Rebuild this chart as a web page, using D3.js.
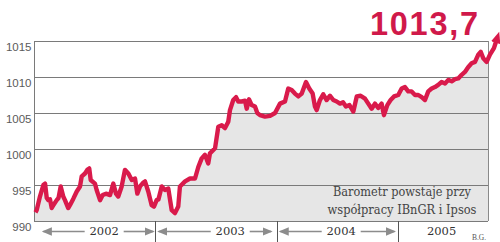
<!DOCTYPE html>
<html><head><meta charset="utf-8">
<script src="https://cdn.jsdelivr.net/npm/d3@7/dist/d3.min.js"></script>
<style>html,body{margin:0;padding:0;background:#fff;}svg{display:block;}</style>
</head><body><svg id="c" width="500" height="242"></svg>
<script>
// ---- data ----
const dates = [2002.012,2002.022,2002.049,2002.077,2002.091,2002.105,2002.118,2002.132,2002.146,2002.159,
2002.187,2002.202,2002.220,2002.241,2002.255,2002.282,2002.296,2002.324,2002.352,2002.379,
2002.393,2002.420,2002.439,2002.455,2002.467,2002.502,2002.516,2002.544,2002.566,2002.593,
2002.626,2002.653,2002.675,2002.694,2002.722,2002.749,2002.777,2002.805,2002.832,2002.851,
2002.873,2002.898,2002.914,2002.941,2002.969,2002.988,2003.010,2003.025,2003.052,2003.079,
2003.106,2003.134,2003.161,2003.188,2003.202,2003.244,2003.285,2003.326,2003.353,2003.381,
2003.408,2003.435,2003.449,2003.491,2003.518,2003.546,2003.573,2003.600,2003.614,2003.641,
2003.664,2003.682,2003.710,2003.738,2003.752,2003.771,2003.793,2003.820,2003.839,2003.861,
2003.902,2003.944,2003.985,2004.026,2004.067,2004.094,2004.122,2004.149,2004.177,2004.205,
2004.240,2004.267,2004.295,2004.314,2004.328,2004.355,2004.382,2004.410,2004.438,2004.465,
2004.493,2004.520,2004.545,2004.569,2004.598,2004.630,2004.658,2004.690,2004.726,2004.753,
2004.781,2004.808,2004.835,2004.863,2004.882,2004.910,2004.937,2004.965,2005.000,2005.028,
2005.055,2005.082,2005.110,2005.138,2005.165,2005.193,2005.220,2005.247,2005.275,2005.302,
2005.329,2005.357,2005.385,2005.412,2005.440,2005.467,2005.494,2005.522,2005.549,2005.577,
2005.604,2005.632,2005.659,2005.679,2005.700,2005.728,2005.755,2005.788,2005.805];
const values = [991.2,991.5,993.4,995.0,995.2,993.2,992.9,993.0,991.8,992.2,
992.9,993.2,994.8,993.4,992.9,991.8,992.2,993.1,994.1,994.8,
996.2,996.6,997.1,997.3,995.7,995.2,994.3,992.9,993.6,993.8,
993.6,995.2,993.8,993.4,994.8,997.1,996.6,995.7,995.9,993.8,
994.8,995.3,995.5,994.1,992.2,992.0,992.9,993.0,994.8,994.3,
994.5,991.5,991.1,992.0,994.8,995.5,995.9,995.9,997.5,998.7,
999.2,998.0,999.4,1000.1,1003.1,1003.3,1002.9,1003.8,1005.4,1006.8,
1007.2,1006.6,1006.6,1006.7,1005.6,1006.9,1006.1,1005.9,1005.0,1004.7,
1004.5,1004.6,1005.0,1006.3,1006.6,1008.4,1008.2,1007.7,1007.3,1007.7,
1009.3,1008.4,1007.7,1005.9,1005.4,1006.8,1007.6,1006.8,1007.4,1006.8,
1006.6,1006.3,1006.5,1005.9,1006.1,1005.2,1007.3,1007.4,1007.0,1006.3,
1005.6,1006.3,1005.7,1006.3,1004.7,1006.1,1006.8,1007.3,1007.5,1008.4,
1008.6,1008.0,1008.0,1007.5,1007.5,1007.2,1006.8,1008.0,1008.4,1008.6,
1008.9,1009.3,1009.1,1009.6,1009.4,1009.7,1009.8,1010.3,1010.7,1011.4,
1011.9,1012.1,1013.1,1013.5,1012.6,1012.1,1013.1,1014.0,1014.9];
const yTicks = [990, 995, 1000, 1005, 1010, 1015];
const years = ["2002", "2003", "2004", "2005"];
const yearLabelAt = [2002.578, 2003.616, 2004.530, 2005.357];
const arrowFrom = [2002.077, 2003.027, 2004.028, null];
const arrowTo = [2002.982, 2003.953, 2004.969, null];
const lastValueLabel = "1013,7";
const noteLines = ["Barometr powstaje przy", "współpracy IBnGR i Ipsos"];
const credit = "B.G.";

// ---- drawing ----
const svg = d3.select("#c");
const L = 34, R = 488, T = 41, B = 221;
const x = d3.scaleLinear().domain([2002, 2005.739]).range([L, R]);
const y = d3.scaleLinear().domain([990, 1015]).range([B, T]);
const red = "#d91a4b";
const serif = "'DejaVu Serif', serif";

const pts = dates.map((d, i) => ({t: d, v: values[i]}));

const defs = svg.append("defs");
defs.append("clipPath").attr("id", "plotclip")
  .append("rect").attr("x", L).attr("y", T).attr("width", R - L).attr("height", B - T);

// fill (extended to the left frame edge)
const fillPts = [{t: 2002, v: values[0]}].concat(pts);
svg.append("path").datum(fillPts)
  .attr("clip-path", "url(#plotclip)")
  .attr("fill", "#e6e6e6")
  .attr("d", d3.area().x(d => x(d.t)).y0(y(990)).y1(d => y(d.v)));

// grid
const yAxis = d3.axisLeft(y).tickValues(yTicks).tickSize(-(R - L)).tickFormat(d3.format("d"));
const ga = svg.append("g").attr("transform", `translate(${L},0)`).call(yAxis);
ga.select(".domain").remove();
ga.selectAll(".tick line").attr("stroke", "#7a7a7a").attr("stroke-width", 1).attr("shape-rendering", "crispEdges");
ga.selectAll(".tick text").attr("x", -2.5).attr("dy", null).attr("y", 9.2)
  .attr("fill", "#5a5a5a").attr("font-family", "'Liberation Sans', Arial, sans-serif")
  .attr("font-size", 11.5).attr("text-anchor", "end");

// frame verticals
svg.append("line").attr("x1", L).attr("x2", L).attr("y1", T).attr("y2", B)
  .attr("stroke", "#7a7a7a").attr("shape-rendering", "crispEdges");
svg.append("line").attr("x1", R).attr("x2", R).attr("y1", T).attr("y2", B)
  .attr("stroke", "#8a8a8a").attr("shape-rendering", "crispEdges");

// note text
noteLines.forEach((s, i) => {
  svg.append("text").text(s)
    .attr("x", 402).attr("y", 196 + i * 18.2)
    .attr("text-anchor", "middle").attr("font-family", serif)
    .attr("font-size", 12.5).attr("fill", "#444")
    .attr("textLength", i === 0 ? 138 : 149).attr("lengthAdjust", "spacingAndGlyphs");
});

// markers
defs.append("marker").attr("id", "head").attr("markerUnits", "userSpaceOnUse")
  .attr("markerWidth", 16).attr("markerHeight", 16).attr("viewBox", "0 -8 16 16")
  .attr("refX", 1).attr("refY", 0).attr("orient", "auto")
  .append("path").attr("d", "M0,-4.8L11.5,0L0,4.8Z").attr("fill", red);
defs.append("marker").attr("id", "ghead").attr("markerUnits", "userSpaceOnUse")
  .attr("markerWidth", 12).attr("markerHeight", 12).attr("viewBox", "0 -6 12 12")
  .attr("refX", 8.5).attr("refY", 0).attr("orient", "auto")
  .append("path").attr("d", "M0,-4.2L10,0L0,4.2Z").attr("fill", "#8c8c8c");

// line
svg.append("path").datum(pts)
  .attr("fill", "none").attr("stroke", red).attr("stroke-width", 4.4)
  .attr("stroke-linejoin", "round").attr("stroke-linecap", "butt")
  .attr("marker-end", "url(#head)")
  .attr("d", d3.line().x(d => x(d.t)).y(d => y(d.v)));

// big value
svg.append("text").text(lastValueLabel)
  .attr("x", 478).attr("y", 35).attr("text-anchor", "end")
  .attr("font-family", "'Liberation Sans', Arial, sans-serif").attr("font-weight", "bold")
  .attr("font-size", 32.5).attr("fill", "#d0194a")
  .attr("textLength", 108).attr("lengthAdjust", "spacing");

// year band
const yearStarts = [2003, 2004, 2005];
svg.selectAll("line.div").data(yearStarts).join("line")
  .attr("x1", d => Math.round(x(d)) + 0.5).attr("x2", d => Math.round(x(d)) + 0.5)
  .attr("y1", B).attr("y2", 242).attr("stroke", "#555");

years.forEach((yr, i) => {
  const cx = x(yearLabelAt[i]);
  svg.append("text").text(yr).attr("x", cx).attr("y", 235.3)
    .attr("text-anchor", "middle").attr("font-family", serif)
    .attr("font-size", 11.5).attr("fill", "#333");
  if (arrowFrom[i] !== null) {
    const half = 14.5 + 5;
    svg.append("line").attr("x1", cx - half).attr("x2", x(arrowFrom[i]))
      .attr("y1", 231.5).attr("y2", 231.5).attr("stroke", "#8c8c8c").attr("stroke-width", 1.6)
      .attr("marker-end", "url(#ghead)");
    svg.append("line").attr("x1", cx + half).attr("x2", x(arrowTo[i]))
      .attr("y1", 231.5).attr("y2", 231.5).attr("stroke", "#8c8c8c").attr("stroke-width", 1.6)
      .attr("marker-end", "url(#ghead)");
  }
});

svg.append("text").text(credit).attr("x", 479).attr("y", 239.5).attr("text-anchor", "middle")
  .attr("font-family", "'Liberation Serif', serif").attr("font-size", 7.5).attr("fill", "#555");
</script>
</body></html>
